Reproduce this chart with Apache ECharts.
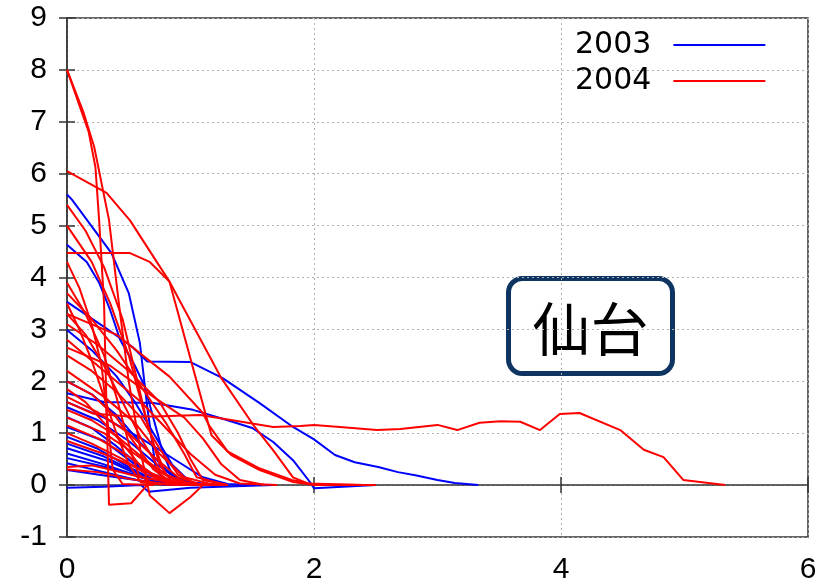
<!DOCTYPE html>
<html><head><meta charset="utf-8">
<script src="https://cdn.jsdelivr.net/npm/echarts@6/dist/echarts.min.js"></script>
<style>html,body{margin:0;padding:0;background:#fff}#c{width:831px;height:588px}</style>
</head><body><div id="c"></div>
<script>
// x ticks, y ticks
const xTicks = [0, 2, 4, 6];
const yTicks = [-1, 0, 1, 2, 3, 4, 5, 6, 7, 8, 9];
const legendNames = ['2003', '2004'];
const annotationText = '仙台';

// 2003 lines (blue) - [x, y] points
const lines2003 = [
  [[0,3.53],[0.3,3.05],[0.53,2.66],[0.65,2.38],[1.0,2.37],[1.26,2.06],[1.56,1.58],[1.83,1.12],[2.0,0.88],[2.17,0.58],[2.33,0.44],[2.52,0.35],[2.68,0.25],[2.82,0.19],[3.0,0.1],[3.14,0.04],[3.33,0]],
  [[0,5.6],[0.04,5.5],[0.36,4.47],[0.5,3.7],[0.59,2.74],[0.65,1.5],[0.72,0.3],[0.8,0.05],[1.0,0.01],[1.2,0]],
  [[0,4.63],[0.16,4.3],[0.26,3.9],[0.35,3.37],[0.43,2.8],[0.55,2.3],[0.63,1.9],[0.77,0.67],[0.85,0.2],[1.0,0.02],[1.2,0]],
  [[0,1.77],[0.3,1.6],[0.7,1.58],[1.02,1.45],[1.3,1.25],[1.5,1.1],[1.67,0.83],[1.83,0.48],[1.97,0.05],[2.0,-0.06],[2.5,0]],
  [[0,-0.05],[0.3,-0.03],[0.6,0],[0.66,-0.13],[1.0,-0.05],[1.67,0]],
  [[0,2.99],[0.2,2.6],[0.4,2.1],[0.55,1.6],[0.7,1.0],[0.85,0.4],[1.0,0.05],[1.2,0]],
  [[0,2.0],[0.2,1.75],[0.4,1.35],[0.6,0.8],[0.8,0.3],[0.95,0.05],[1.2,0]],
  [[0,1.5],[0.25,1.25],[0.5,0.85],[0.7,0.45],[0.9,0.1],[1.1,0.02],[1.3,0]],
  [[0,1.31],[0.2,1.1],[0.4,0.75],[0.6,0.35],[0.8,0.05],[1.0,0]],
  [[0,1.12],[0.3,0.85],[0.55,0.4],[0.75,0.1],[0.9,0]],
  [[0,0.93],[0.25,0.7],[0.5,0.35],[0.7,0.1],[0.85,0]],
  [[0,0.8],[0.3,0.55],[0.6,0.2],[0.8,0.02],[1.0,0]],
  [[0,0.71],[0.35,0.45],[0.65,0.12],[0.9,0]],
  [[0,0.61],[0.3,0.4],[0.6,0.15],[0.75,0.03],[0.9,0]],
  [[0,0.52],[0.4,0.3],[0.7,0.08],[0.95,0]],
  [[0,0.42],[0.3,0.25],[0.6,0.08],[0.8,0]],
  [[0,0.29],[0.4,0.15],[0.8,0.02],[1.0,0]],
  [[0,1.6],[0.3,1.3],[0.6,0.9],[0.9,0.45],[1.1,0.15],[1.3,0.02],[1.5,0]]
];

// 2004 lines (red)
const lines2004 = [
  [[0,8.0],[0.175,6.81],[0.23,6.13],[0.26,5.11],[0.3,3.5],[0.32,1.5],[0.34,-0.38],[0.52,-0.35],[0.66,0.03],[0.9,0.02],[1.2,0]],
  [[0,8.0],[0.135,7.17],[0.22,6.52],[0.34,5.11],[0.42,3.5],[0.5,2.0],[0.6,0.6],[0.67,-0.2],[0.83,-0.54],[1.0,-0.23],[1.1,0],[1.3,0]],
  [[0,6.05],[0.32,5.63],[0.51,5.1],[0.83,3.92],[1.25,2.06],[1.52,1.12],[1.67,0.67],[1.83,0.15],[1.95,0.03],[2.4,0]],
  [[0,4.47],[0.51,4.47],[0.67,4.3],[0.83,3.92],[1.13,1.3],[1.17,0.96],[1.33,0.58],[1.56,0.29],[1.83,0.06],[2.0,0],[2.5,0]],
  [[0,3.3],[0.4,2.9],[0.83,2.09],[1.1,1.39],[1.15,1.15],[1.3,0.65],[1.55,0.33],[1.82,0.1],[2.0,0.01],[2.4,0]],
  [[0,1.6],[0.21,1.38],[0.5,1.32],[0.7,1.32],[1.08,1.35],[1.34,1.25],[1.67,1.12],[1.89,1.14],[2.0,1.16],[2.21,1.12],[2.51,1.06],[2.7,1.08],[3.0,1.16],[3.16,1.06],[3.34,1.2],[3.51,1.23],[3.67,1.22],[3.83,1.06],[3.99,1.37],[4.15,1.39],[4.48,1.06],[4.67,0.68],[4.83,0.54],[4.99,0.1],[5.33,0]],
  [[0,5.4],[0.15,4.9],[0.3,4.2],[0.45,3.2],[0.55,2.2],[0.65,1.2],[0.75,0.4],[0.85,0.05],[1.1,0]],
  [[0,5.0],[0.2,4.3],[0.35,3.5],[0.5,2.5],[0.6,1.6],[0.7,0.8],[0.8,0.2],[1.0,0.02],[1.3,0]],
  [[0,3.5],[0.1,3.0],[0.2,2.4],[0.3,1.7],[0.4,1.0],[0.5,0.4],[0.6,0.05],[0.9,0]],
  [[0,3.3],[0.15,2.9],[0.3,2.3],[0.45,1.6],[0.6,0.9],[0.75,0.3],[0.9,0.03],[1.2,0]],
  [[0,3.1],[0.25,2.7],[0.5,2.2],[0.75,1.6],[0.9,1.0],[1.0,0.5],[1.1,0.1],[1.3,0]],
  [[0,2.8],[0.3,2.2],[0.6,1.6],[0.8,1.1],[1.0,0.6],[1.2,0.2],[1.4,0.03],[1.7,0]],
  [[0,2.5],[0.2,2.2],[0.4,1.8],[0.6,1.3],[0.75,0.7],[0.9,0.2],[1.05,0.02],[1.3,0]],
  [[0,2.2],[0.3,1.7],[0.55,1.2],[0.75,0.6],[0.95,0.15],[1.2,0]],
  [[0,2.0],[0.2,1.75],[0.4,1.3],[0.55,0.8],[0.7,0.3],[0.85,0.05],[1.1,0]],
  [[0,1.85],[0.15,1.6],[0.3,1.2],[0.45,0.8],[0.6,0.35],[0.8,0.05],[1.0,0]],
  [[0,1.7],[0.25,1.4],[0.5,1.0],[0.7,0.55],[0.9,0.15],[1.1,0]],
  [[0,1.45],[0.2,1.25],[0.4,0.95],[0.6,0.55],[0.8,0.2],[1.0,0.02],[1.2,0]],
  [[0,1.3],[0.3,1.0],[0.55,0.6],[0.75,0.25],[0.95,0.03],[1.25,0]],
  [[0,1.15],[0.25,0.9],[0.5,0.55],[0.7,0.2],[0.9,0.02],[1.1,0]],
  [[0,1.0],[0.2,0.8],[0.45,0.5],[0.65,0.2],[0.85,0.03],[1.05,0]],
  [[0,0.85],[0.3,0.6],[0.6,0.3],[0.85,0.08],[1.1,0]],
  [[0,0.35],[0.2,0.38],[0.35,0.3],[0.6,0.15],[0.9,0.03],[1.2,0]],
  [[0,0.3],[0.25,0.25],[0.5,0.12],[0.8,0.02],[1.0,0]],
  [[0,4.3],[0.1,3.8],[0.2,3.1],[0.28,2.3],[0.33,1.2],[0.37,0.3],[0.45,0.02],[0.7,0]],
  [[0,3.9],[0.15,3.3],[0.3,2.5],[0.4,1.7],[0.5,0.8],[0.58,0.2],[0.7,0.02],[1.0,0]],
  [[0,2.65],[0.35,2.3],[0.7,1.7],[0.95,1.3],[1.1,0.9],[1.25,0.4],[1.4,0.1],[1.6,0]],
  [[0,3.7],[0.2,3.2],[0.4,2.6],[0.6,1.9],[0.8,1.2],[0.95,0.6],[1.05,0.15],[1.3,0]]
];

const chart = echarts.init(document.getElementById('c'), null, {renderer: 'canvas'});
const FONT = 'Liberation Sans';
const series = [];
lines2003.forEach(d => series.push({type:'line', name:legendNames[0], data:d, symbol:'none', color:'#0000ff', lineStyle:{color:'#0000ff', width:2}, silent:true, animation:false}));
lines2004.forEach(d => series.push({type:'line', name:legendNames[1], data:d, symbol:'none', color:'#ff0000', lineStyle:{color:'#ff0000', width:2}, silent:true, animation:false}));

const gridLine = {show:true, lineStyle:{color:'#b0b0b0', type:[2,3], width:1}};
chart.setOption({
  animation:false,
  backgroundColor:'#fff',
  grid:{left:67, right:23, top:18, bottom:51, show:true, borderColor:'#333', borderWidth:1.5, backgroundColor:'transparent'},
  legend:{
    data:legendNames, orient:'vertical', left:570, top:25, align:'right', padding:5,
    icon:'rect', itemWidth:92, itemHeight:2, itemGap:6,
    textStyle:{fontFamily:'DejaVu Sans', fontSize:30, color:'#000', lineHeight:27, padding:[0,17,0,0]}
  },
  xAxis:[
    {type:'value', min:xTicks[0], max:xTicks[xTicks.length-1], interval:2,
     axisLine:{show:true, lineStyle:{color:'#333', width:1.5}},
     axisTick:{show:true, inside:true, length:8, lineStyle:{color:'#333', width:1.5}},
     axisLabel:{fontFamily:FONT, fontSize:30, color:'#000', margin:18},
     splitLine:gridLine},
    {type:'value', position:'top', min:xTicks[0], max:xTicks[xTicks.length-1], interval:2,
     axisLine:{show:false}, axisTick:{show:true, inside:true, length:8, lineStyle:{color:'#333', width:1.5}},
     axisLabel:{show:false}, splitLine:{show:false}}
  ],
  yAxis:[
    {type:'value', min:yTicks[0], max:yTicks[yTicks.length-1], interval:1,
     axisLine:{show:true, lineStyle:{color:'#333', width:1.5}},
     axisTick:{show:true, inside:true, length:8, lineStyle:{color:'#333', width:1.5}},
     axisLabel:{fontFamily:FONT, fontSize:30, color:'#000', margin:20},
     splitLine:gridLine},
    {type:'value', position:'right', min:yTicks[0], max:yTicks[yTicks.length-1], interval:1,
     axisLine:{show:false}, axisTick:{show:true, inside:true, length:8, lineStyle:{color:'#333', width:1.5}},
     axisLabel:{show:false}, splitLine:{show:false}}
  ],
  series: series,
  graphic:[
    {type:'group', left:506, top:276, children:[
      {type:'rect', shape:{x:0, y:0, width:164, height:95, r:14}, style:{fill:'#fff', stroke:'#0e3461', lineWidth:5}},
      {type:'text', x:82, y:50, style:{text:annotationText, fill:'#000', font:'400 58px "Noto Sans CJK JP"', align:'center', verticalAlign:'middle'}}
    ]}
  ]
});
</script></body></html>
